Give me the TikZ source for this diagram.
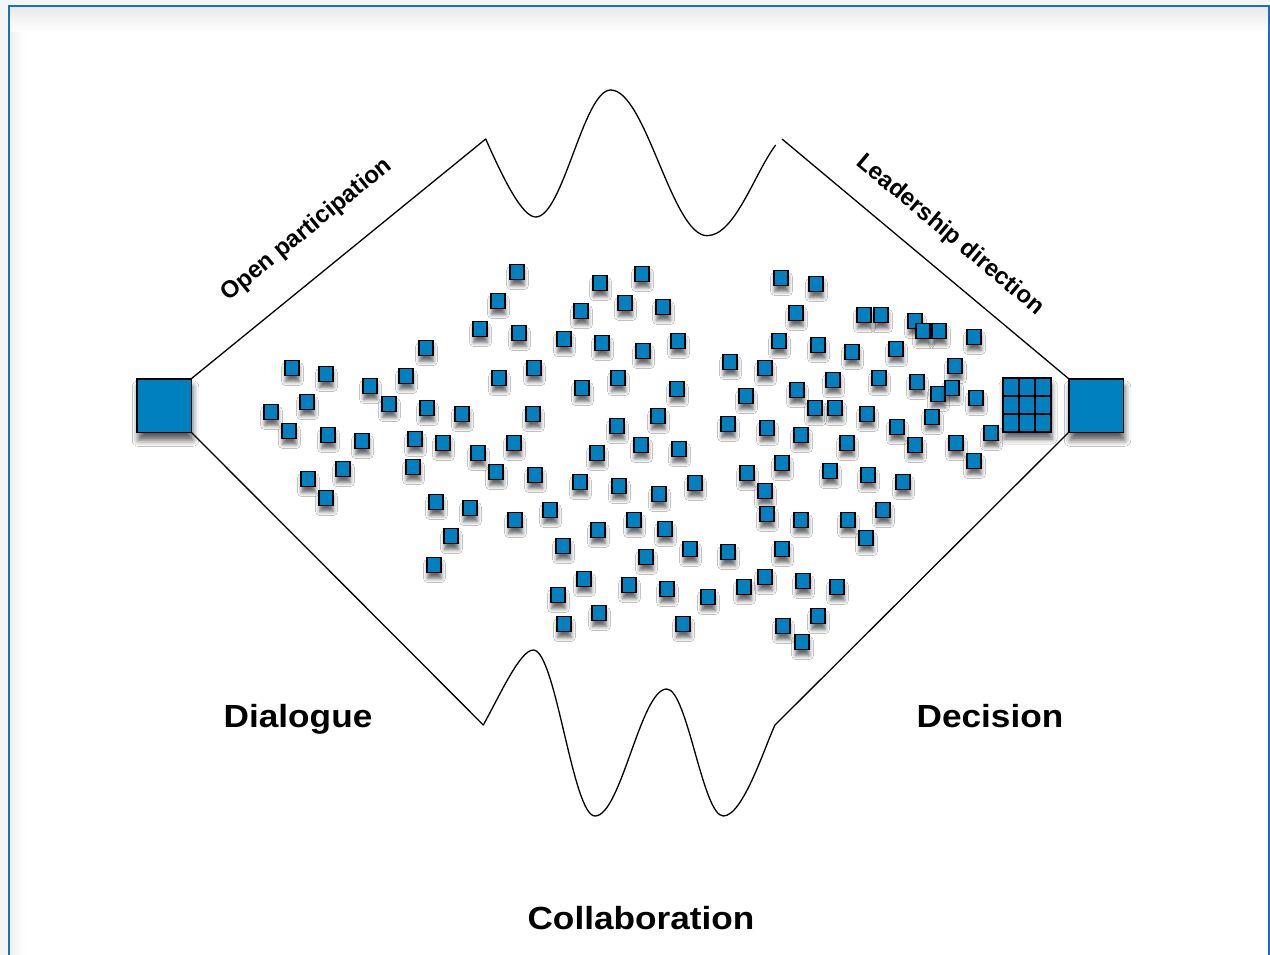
\documentclass[tikz,border=0pt]{standalone}
\usepackage{fontspec}
\setmainfont{Liberation Sans}
\usetikzlibrary{shadows.blur}
\definecolor{sqblue}{RGB}{0,128,190}
\definecolor{framebl}{RGB}{25,112,195}
\begin{document}
\begin{tikzpicture}[x=1pt,y=-1pt,
  sq/.style={draw=black, line width=1.3pt, fill=sqblue, minimum width=13.8pt, minimum height=15pt, inner sep=0pt, outer sep=0pt,
    blur shadow={shadow xshift=0.5pt, shadow yshift=-6pt, shadow blur radius=4pt, shadow opacity=60}},
  big/.style={draw=black, line width=1.5pt, fill=sqblue, minimum width=54.5pt, minimum height=53.5pt, inner sep=0pt, outer sep=0pt,
    blur shadow={shadow xshift=1.5pt, shadow yshift=-8pt, shadow blur radius=6pt, shadow opacity=65}},
  cell/.style={draw=black, line width=1.3pt, fill=sqblue, minimum width=16pt, minimum height=18pt, inner sep=0pt, outer sep=0pt},
  outline/.style={draw=black, line width=1.3pt, line join=round},
  biglabel/.style={font=\bfseries\fontsize{32}{36}\selectfont, xscale=1.1, anchor=base, inner sep=0pt},
  sidelabel/.style={font=\bfseries\fontsize{24}{26}\selectfont, inner sep=0pt}
]
\useasboundingbox (0,0) rectangle (1270,955);
\clip (0,0) rectangle (1270,955);
% page and frame
\fill[black!4] (0,0) rectangle (1270,955);
\fill[white] (9,6) rectangle (1269,955);
\shade[left color=black!6, right color=white] (9,6) rectangle (26,955);
\shade[top color=black!9, bottom color=white] (9,6) rectangle (1269,32);
\draw[framebl, line width=2pt] (9,965) -- (9,6) -- (1269,6) -- (1269,965);

% end squares
\node[big] (L) at (164,405.5) {};
\node[big] (R) at (1096,405.5) {};

% outline
\coordinate (tw0) at (485.7,139);
\coordinate (tw1) at (775.7,145);
\coordinate (tr0) at (782,139);
\coordinate (bw0) at (483.3,725);
\coordinate (bw1) at (775,725);
\draw[outline] (L.north east) -- (tw0)
  .. controls (503,178) and (522,217) .. (535.7,217)
  .. controls (563,217) and (583.4,90) .. (610.7,90)
  .. controls (645.7,90) and (672,235.7) .. (707,235.7)
  .. controls (735,235.7) and (754.5,173) .. (tw1);
\draw[outline] (tr0) -- (R.north west);
\draw[outline] (L.south east) -- (bw0)
  .. controls (500,695) and (520,650) .. (533.3,650)
  .. controls (555.7,650) and (572.6,816) .. (595,816)
  .. controls (621,816) and (640.7,689) .. (666.7,689)
  .. controls (687.3,689) and (702.7,816) .. (723.3,816)
  .. controls (743,816) and (765,746) .. (bw1) -- (R.south west);

% grid
\node[cell, minimum width=48pt, minimum height=54pt,
  blur shadow={shadow xshift=1pt, shadow yshift=-7pt, shadow blur radius=5pt, shadow opacity=60}] (G) at (1027,405) {};
\foreach \cx [count=\i] in {1011,1027,1043}
  \foreach \cy [count=\j] in {387,405,423}
    \node[cell] (g\i\j) at (\cx,\cy) {};

% scattered squares
\foreach \x/\y [count=\i] in {
517/272, 498/301, 480/329, 519/333, 426/348, 292/368, 326/374, 406/376, 499/378, 534/368,
370/386, 307/402, 271/412, 389/404, 427/408, 462/414, 533/414, 289/431, 328/435, 362/441,
415/439, 443/443, 478/453, 514/443, 496/472, 535/475, 343/469, 308/479, 413/467, 326/498,
436/502, 470/508, 515/520, 451/536, 434/565, 550/510,
600/283, 642/274, 625/303, 663/307, 581/311, 564/339, 602/343, 643/351, 678/341, 618/378,
582/388, 677/389, 658/416, 617/426, 641/445, 679/449, 597/453, 580/482, 619/486, 659/494,
695/483, 598/530, 634/520, 665/529, 563/546, 690/549, 728/552, 646/557, 584/579, 629/585,
667/589, 708/597, 744/587, 765/577, 803/581, 837/587, 558/595, 599/613, 564/624, 683/624,
783/626, 818/616, 802/642,
781/278, 816/284, 796/313, 779/341, 818/345, 730/362, 765/368, 833/380, 746/396, 797/390,
815/408, 835/408, 728/424, 767/428, 801/435, 782/463, 747/473, 830/471, 765/491, 767/514,
801/520, 782/549,
864/315, 881/315, 915/321, 923/331, 939/331, 974/337, 852/352, 896/349, 955/366, 879/378,
917/382, 938/394, 952/388, 976/398, 867/414, 897/427, 932/417, 991/433, 847/443, 915/445,
956/443, 974/461, 868/475, 903/482, 883/510, 848/520, 866/538}
  \node[sq] (s\i) at (\x,\y) {};

% labels
\node[sidelabel, rotate=39.2] (op) at (307,230) {Open participation};
\node[sidelabel, rotate=-39.9] (ld) at (950,235) {Leadership direction};
\node[biglabel] (dia) at (298,727) {Dialogue};
\node[biglabel] (dec) at (990,727) {Decision};
\node[biglabel] (col) at (641,929) {Collaboration};
\end{tikzpicture}
\end{document}
